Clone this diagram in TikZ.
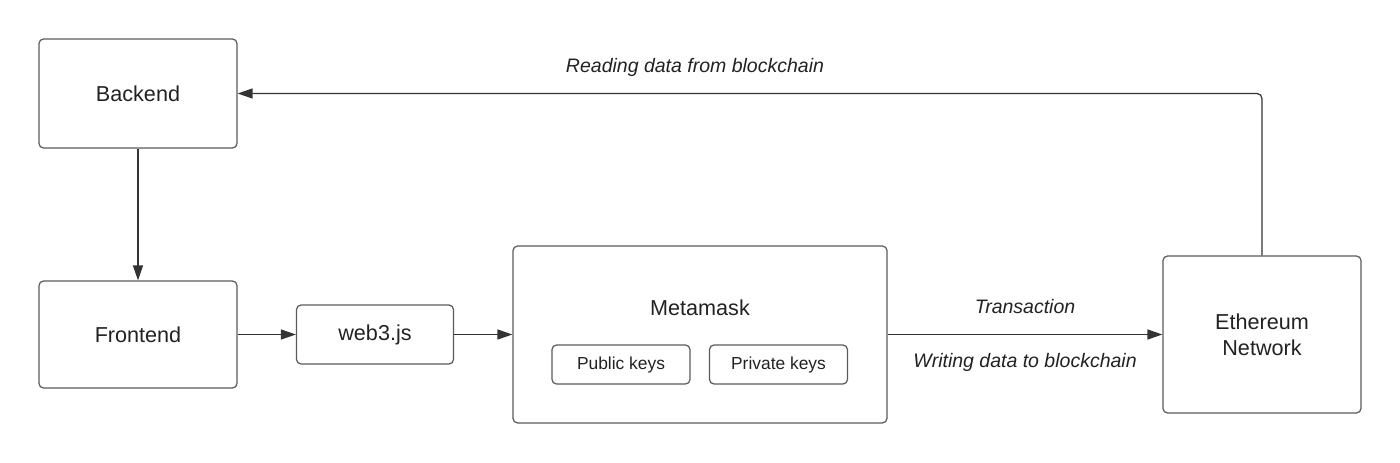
\documentclass[tikz,border=0pt]{standalone}
\usepackage{fontspec}
\setmainfont{Liberation Sans}
\usetikzlibrary{arrows.meta, positioning}
\definecolor{boxgray}{HTML}{5A5A5A}
\definecolor{linegray}{HTML}{333333}
\definecolor{textgray}{HTML}{222222}

\begin{document}
\begin{tikzpicture}[x=0.02cm, y=-0.02cm,
    block/.style={draw=boxgray, line width=0.7pt, rounded corners=0.09cm, align=center, inner sep=0pt, text=textgray, font=\fontsize{12.3}{14.8}\selectfont},
    keybox/.style={block, minimum width=2.76cm, minimum height=0.78cm, font=\fontsize{9.9}{12}\selectfont},
    link/.style={draw=linegray, line width=0.7pt, -{Triangle[length=0.3cm, width=0.2cm]}},
    note/.style={font=\fontsize{11.1}{13}\selectfont\itshape, text=textgray},
]
  \useasboundingbox (0,0) rectangle (1400,463);

  \node[block, minimum width=3.96cm, minimum height=2.18cm] (backend) at (138,93.5) {Backend};
  \node[block, minimum width=3.96cm, minimum height=2.14cm] (frontend) at (138,334.5) {Frontend};
  \node[block, minimum width=3.14cm, minimum height=1.18cm] (web3) at (375,334.5) {web3.js};
  \node[block, minimum width=7.48cm, minimum height=3.54cm] (metamask) at (700,334.5) {};
  \node[text=textgray, font=\fontsize{12.3}{14.8}\selectfont] (mmlabel) at (700,308) {Metamask};
  \node[keybox] (pubkeys) at (621,364.5) {Public keys};
  \node[keybox] (privkeys) at (778.5,364.5) {Private keys};
  \node[block, minimum width=3.96cm, minimum height=3.14cm] (ethereum) at (1262,334.5) {Ethereum\\Network};

  \draw[link] (backend) -- (frontend);
  \draw[link] (frontend) -- (web3);
  \draw[link] (web3) -- (metamask);
  \draw[link] (metamask) -- (ethereum);
  \draw[link, rounded corners=0.1cm] (ethereum.north) |- (backend.east);

  \node[note] (readlabel) at (695,67) {Reading data from blockchain};
  \node[note] (txlabel) at (1025,307) {Transaction};
  \node[note] (writelabel) at (1025,362) {Writing data to blockchain};
\end{tikzpicture}
\end{document}
